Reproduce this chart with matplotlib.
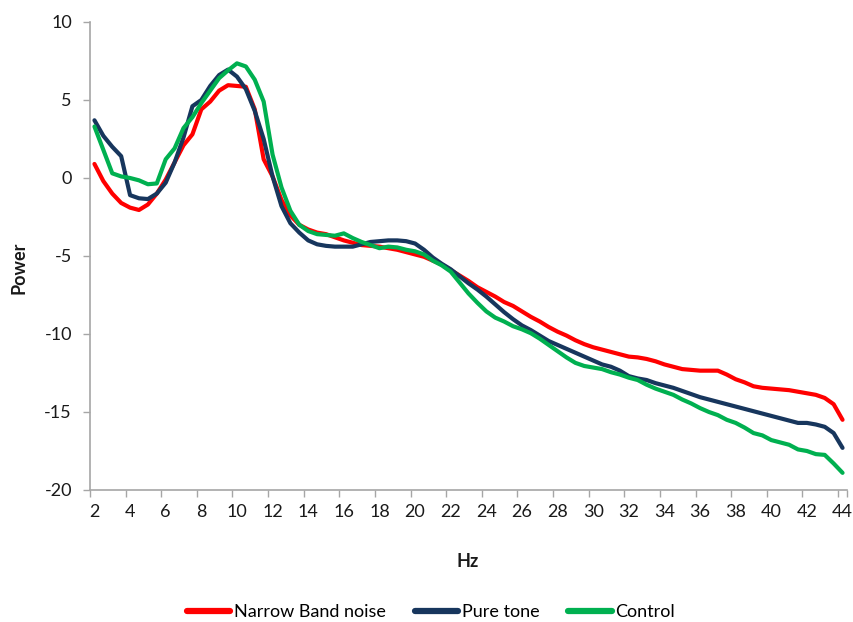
import numpy as np
import matplotlib
matplotlib.use("Agg")
import matplotlib.pyplot as plt

plt.rcParams["font.family"] = ["Lato", "DejaVu Sans"]
plt.rcParams["axes.unicode_minus"] = False

# frequency axis, 0.5 Hz steps
hz = np.arange(2.0, 44.01, 0.5)

narrow_band = [
    0.9, -0.2, -1.0, -1.6, -1.9, -2.05, -1.7, -1.0, -0.1, 1.0,
    2.1, 2.8, 4.4, 4.9, 5.6, 5.95, 5.9, 5.85, 4.4, 1.2,
    0.1, -1.4, -2.4, -3.0, -3.3, -3.5, -3.6, -3.8, -4.0, -4.15,
    -4.3, -4.35, -4.4, -4.5, -4.6, -4.75, -4.9, -5.05, -5.3, -5.55,
    -5.9, -6.25, -6.6, -7.0, -7.3, -7.6, -7.95, -8.2, -8.55, -8.9,
    -9.2, -9.55, -9.85, -10.1, -10.4, -10.65, -10.85, -11.0, -11.15, -11.3,
    -11.45, -11.5, -11.6, -11.75, -11.95, -12.1, -12.25, -12.3, -12.35, -12.35,
    -12.35, -12.6, -12.9, -13.1, -13.35, -13.45, -13.5, -13.55, -13.6, -13.7,
    -13.8, -13.9, -14.1, -14.5, -15.5,
]

pure_tone = [
    3.7, 2.7, 2.0, 1.4, -1.1, -1.3, -1.35, -1.0, -0.3, 1.0,
    2.6, 4.6, 5.0, 5.9, 6.6, 6.95, 6.5, 5.7, 4.3, 2.5,
    0.1, -1.8, -2.9, -3.5, -4.0, -4.25, -4.35, -4.4, -4.4, -4.4,
    -4.25, -4.1, -4.05, -4.0, -4.0, -4.05, -4.2, -4.6, -5.1, -5.5,
    -5.85, -6.3, -6.75, -7.15, -7.6, -8.1, -8.6, -9.05, -9.45, -9.75,
    -10.1, -10.45, -10.7, -10.95, -11.2, -11.45, -11.7, -11.95, -12.1, -12.35,
    -12.7, -12.85, -12.95, -13.15, -13.3, -13.45, -13.65, -13.85, -14.05, -14.2,
    -14.35, -14.5, -14.65, -14.8, -14.95, -15.1, -15.25, -15.4, -15.55, -15.7,
    -15.7, -15.8, -15.95, -16.35, -17.3,
]

control = [
    3.3, 1.8, 0.3, 0.1, 0.0, -0.15, -0.4, -0.35, 1.2, 1.9,
    3.2, 3.9, 4.8, 5.6, 6.4, 6.9, 7.35, 7.15, 6.3, 4.9,
    1.5, -0.6, -2.1, -3.0, -3.4, -3.6, -3.65, -3.7, -3.55, -3.85,
    -4.1, -4.3, -4.5, -4.4, -4.45, -4.6, -4.7, -4.9, -5.3, -5.6,
    -6.0, -6.7, -7.4, -8.0, -8.55, -8.95, -9.2, -9.5, -9.7, -9.95,
    -10.3, -10.7, -11.1, -11.5, -11.85, -12.05, -12.15, -12.25, -12.45, -12.6,
    -12.8, -12.95, -13.25, -13.5, -13.7, -13.9, -14.2, -14.45, -14.75, -15.0,
    -15.2, -15.5, -15.7, -16.0, -16.35, -16.5, -16.8, -16.95, -17.1, -17.4,
    -17.5, -17.7, -17.75, -18.3, -18.9,
]

series_names = ["Narrow Band noise", "Pure tone", "Control"]
series_colors = ["#ff0000", "#17365d", "#00b050"]

x_labels = np.arange(2, 45, 2)
y_ticks = np.arange(-20, 11, 5)

fig = plt.figure(figsize=(8.54, 6.22), dpi=100)
ax = fig.add_axes([90 / 854, 1 - 490 / 622, 757 / 854, 468 / 622])

for vals, name, col in zip([narrow_band, pure_tone, control], series_names, series_colors):
    ax.plot(hz, vals, color=col, lw=3.0, label=name, solid_capstyle="round")

ax.set_xlim(1.75, 44.25)
ax.set_ylim(-20, 10)

# category-style axis: labels on the values, tick marks between categories
ax.set_xticks(x_labels)
ax.set_xticklabels([str(v) for v in x_labels])
ax.tick_params(axis="x", which="major", length=0, pad=10, labelsize=13, labelcolor="#1a1a1a")
ax.set_xticks(np.append(x_labels - 0.25, 44.25), minor=True)
ax.tick_params(axis="x", which="minor", length=5, width=1, color="#a6a6a6", direction="out")

ax.set_yticks(y_ticks)
ax.tick_params(axis="y", length=5, width=1, color="#a6a6a6", direction="out",
               labelsize=13, labelcolor="#1a1a1a", pad=8)

for side in ["top", "right"]:
    ax.spines[side].set_visible(False)
for side in ["left", "bottom"]:
    ax.spines[side].set_color("#a6a6a6")
    ax.spines[side].set_linewidth(1.2)

ax.set_xlabel("Hz", fontsize=13, fontweight="bold", color="#1a1a1a")
ax.set_ylabel("Power", fontsize=13, fontweight="bold", color="#1a1a1a")
ax.xaxis.set_label_coords((468 - 90) / 757, (490 - 553) / 468)
ax.yaxis.set_label_coords((27 - 90) / 757, (490 - 268) / 468)

leg = fig.legend(loc="center", bbox_to_anchor=(431 / 854, 1 - 612 / 622), ncol=3,
                 frameon=False, fontsize=13, handlelength=2.4, handletextpad=0.2,
                 columnspacing=1.6)
for line in leg.get_lines():
    line.set_linewidth(4.5)

fig.savefig("out.png", dpi=100)
